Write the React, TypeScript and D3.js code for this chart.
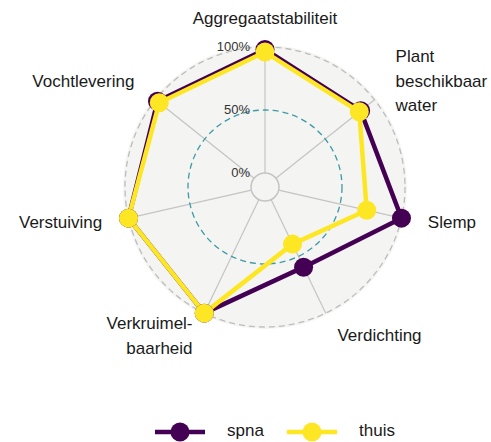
import React from "react";
import * as d3 from "d3";

const axes = [
  "Aggregaatstabiliteit",
  "Plant beschikbaar water",
  "Slemp",
  "Verdichting",
  "Verkruimelbaarheid",
  "Verstuiving",
  "Vochtlevering",
];
const axisLabelLines = [
  ["Aggregaatstabiliteit"],
  ["Plant", "beschikbaar", "water"],
  ["Slemp"],
  ["Verdichting"],
  ["Verkruimel-", "baarheid"],
  ["Verstuiving"],
  ["Vochtlevering"],
];
const seriesNames = ["spna", "thuis"];
const spna = [0.98, 0.86, 1.0, 0.595, 1.0, 1.0, 0.98];
const thuis = [0.96, 0.846, 0.717, 0.392, 1.0, 1.0, 0.962];
const gridValues = [0, 0.5, 1];
const gridLabels = ["0%", "50%", "100%"];
const colors = ["#440154", "#FDE725"];

const W = 491;
const H = 442;
const cx = 265;
const cy = 187;
const R = 140;
const FONT = "'Liberation Sans', Arial, sans-serif";

export default function App() {
  const centreY = -1 / 9;
  const r = d3.scaleLinear().domain([centreY, 1]).range([0, R]);
  const angle = d3
    .scaleLinear()
    .domain([0, axes.length])
    .range([0, 2 * Math.PI]);
  const pt = (i: number, v: number) => {
    const a = angle(i);
    return [cx + r(v) * Math.sin(a), cy - r(v) * Math.cos(a)];
  };
  const line = d3
    .line<number>()
    .x((v, i) => pt(i, v)[0])
    .y((v, i) => pt(i, v)[1])
    .curve(d3.curveLinearClosed);
  const data = [spna, thuis];
  const labelR = 167;

  return (
    <svg
      width={W}
      height={H}
      style={{ position: "absolute", left: 0, top: 0, background: "#fff" }}
      fontFamily={FONT}
    >
      <circle cx={cx} cy={cy} r={R + 2} fill="#f4f4f2" />
      {axes.map((a, i) => {
        const [x1, y1] = pt(i, 0);
        const [x2, y2] = pt(i, 1);
        return (
          <line key={a} x1={x1} y1={y1} x2={x2} y2={y2} stroke="#c4c4c4" strokeWidth={1.2} />
        );
      })}
      <circle cx={cx} cy={cy} r={r(0)} fill="none" stroke="#c4c4c4" strokeWidth={1.5} />
      <circle
        cx={cx}
        cy={cy}
        r={r(0.5)}
        fill="none"
        stroke="#3d9ba5"
        strokeWidth={1.3}
        strokeDasharray="6,4"
      />
      <circle
        cx={cx}
        cy={cy}
        r={r(1)}
        fill="none"
        stroke="#bdbdbd"
        strokeWidth={1.3}
        strokeDasharray="6,4"
      />
      {gridValues.map((g, i) => (
        <text
          key={g}
          x={cx - 15}
          y={cy - r(g) + 1}
          textAnchor="end"
          dominantBaseline="middle"
          fontSize={13}
          fill="#333"
        >
          {gridLabels[i]}
        </text>
      ))}
      {data.map((d, s) => (
        <path
          key={seriesNames[s]}
          d={line(d) || ""}
          fill="none"
          stroke={colors[s]}
          strokeWidth={4.5}
          strokeLinejoin="round"
        />
      ))}
      {data.map((d, s) =>
        d.map((v, i) => {
          const [x, y] = pt(i, v);
          return <circle key={seriesNames[s] + i} cx={x} cy={y} r={9.5} fill={colors[s]} />;
        })
      )}
      {axisLabelLines.map((lines, i) => {
        const a = angle(i);
        const x = cx + labelR * Math.sin(a);
        const y = cy - labelR * Math.cos(a);
        const anchor = Math.abs(x - cx) < 5 ? "middle" : x > cx ? "start" : "end";
        const lh = 24.5;
        const y0 = y - ((lines.length - 1) * lh) / 2;
        return (
          <text
            key={axes[i]}
            x={x}
            y={y0}
            textAnchor={anchor}
            fontSize={17}
            fill="#1a1a1a"
            dominantBaseline="middle"
          >
            {lines.map((l, k) => (
              <tspan key={k} x={x} y={y0 + k * lh}>
                {l}
              </tspan>
            ))}
          </text>
        );
      })}
      {seriesNames.map((n, s) => {
        const x0 = 155 + s * 132;
        return (
          <g key={n}>
            <line x1={x0} x2={x0 + 50} y1={432} y2={432} stroke={colors[s]} strokeWidth={4.5} />
            <circle cx={x0 + 25} cy={432} r={9.5} fill={colors[s]} />
            <text x={x0 + 72} y={432} fontSize={17} fill="#1a1a1a" dominantBaseline="middle">
              {n}
            </text>
          </g>
        );
      })}
    </svg>
  );
}
